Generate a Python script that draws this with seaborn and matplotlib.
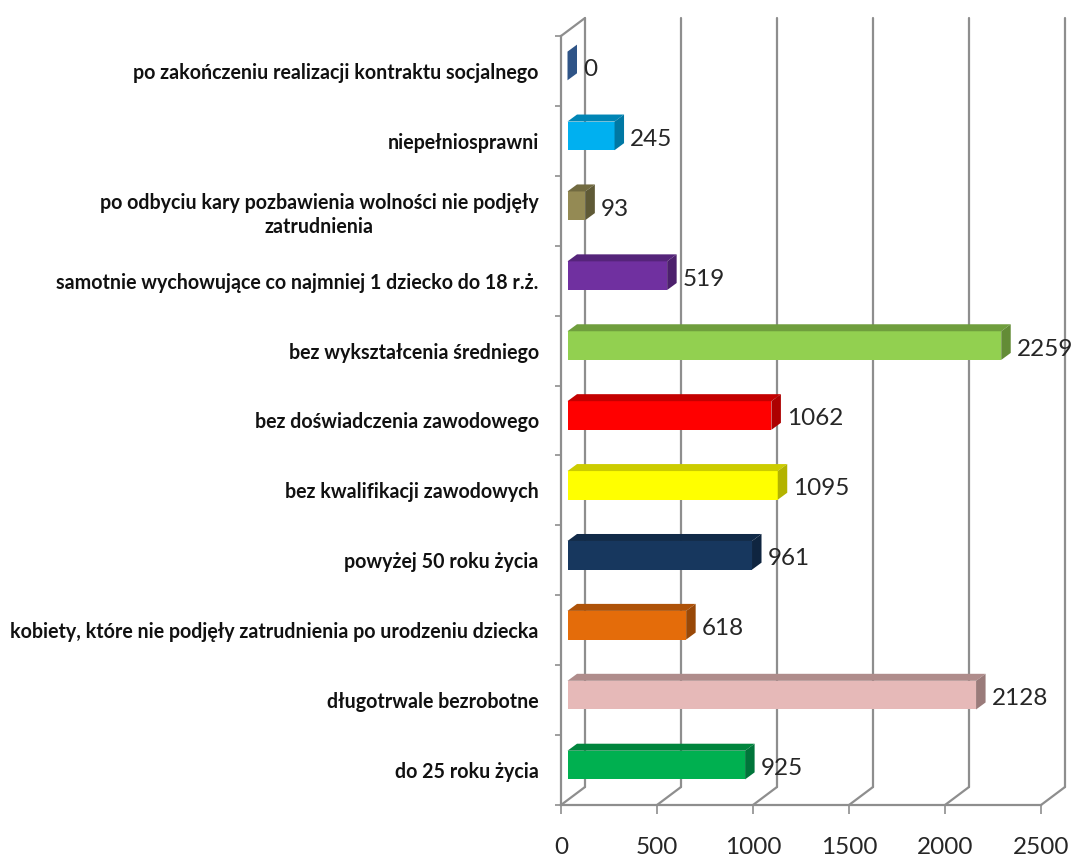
import matplotlib
matplotlib.use("Agg")
import matplotlib.pyplot as plt
import seaborn as sns
import pandas as pd
from matplotlib.patches import Polygon

categories = [
    "po zakończeniu realizacji kontraktu socjalnego",
    "niepełniosprawni",
    "po odbyciu kary pozbawienia wolności nie podjęły\nzatrudnienia",
    "samotnie wychowujące co najmniej 1 dziecko do 18 r.ż.",
    "bez wykształcenia średniego",
    "bez doświadczenia zawodowego",
    "bez kwalifikacji zawodowych",
    "powyżej 50 roku życia",
    "kobiety, które nie podjęły zatrudnienia po urodzeniu dziecka",
    "długotrwale bezrobotne",
    "do 25 roku życia",
]
values = [0, 245, 93, 519, 2259, 1062, 1095, 961, 618, 2128, 925]
x_ticks = [0, 500, 1000, 1500, 2000, 2500]

front_colors = ["#2F5487", "#00B0F0", "#948A54", "#7030A0", "#92D050", "#FF0000",
                "#FFFF00", "#17375E", "#E46C0A", "#E6B9B8", "#00B050"]
top_colors = ["#254369", "#0085B5", "#716A40", "#55247A", "#6F9E3D", "#C40000",
              "#CCCC00", "#112A48", "#AE5208", "#AF8C8B", "#00853D"]
side_colors = ["#2F5487", "#0078A4", "#5F5A36", "#4C206C", "#638C36", "#AD0000",
               "#B3B300", "#0F2540", "#994807", "#9A7B7A", "#00753A"]

GRID = "#8E8E8E"
TEXT = "#262626"

# one pixel in data units (480 px = 2500, 69.9 px = one row)
PX = 2500 / 480
PY = 1 / 69.9

sns.set_theme(style="white")
plt.rcParams["font.family"] = ["Lato", "DejaVu Sans"]

df = pd.DataFrame({"kategoria": categories, "liczba": values})

fig = plt.figure(figsize=(10.73, 8.57), dpi=100, facecolor="white")
ax = fig.add_axes([561 / 1073, 1 - 805 / 857, 480 / 1073, 769 / 857])

sns.barplot(data=df, y="kategoria", x="liczba", hue="kategoria", palette=front_colors,
            order=categories, hue_order=categories, legend=False, width=0.41,
            saturation=1, ax=ax, zorder=3, linewidth=0)

ax.set_xlim(0, 2500)
ax.set_ylim(len(categories) - 0.5, -0.5)

# back wall and floor of the 3d box
wall_x = 24 * PX
wall_y = 18 * PY
for t in x_ticks:
    ax.plot([t + wall_x, t + wall_x], [len(categories) - 0.5 - wall_y, -0.5 - wall_y],
            color=GRID, lw=1.6, clip_on=False, zorder=1)
    ax.plot([t, t + wall_x], [len(categories) - 0.5, len(categories) - 0.5 - wall_y],
            color=GRID, lw=1.6, clip_on=False, zorder=1)
ax.plot([0, wall_x], [-0.5, -0.5 - wall_y], color=GRID, lw=1.6, clip_on=False, zorder=1)

# shift the bars off the wall and give them a top and a side
bar_x = 6.5 * PX
bar_y = -5 * PY
depth_x = 9.5 * PX
depth_y = 7 * PY
for i, (bar, val) in enumerate(zip(ax.patches, values)):
    bar.set_x(bar_x)
    bar.set_y(bar.get_y() + bar_y)
    x0, x1 = bar_x, bar_x + val
    y0, y1 = bar.get_y(), bar.get_y() + bar.get_height()
    ax.add_patch(Polygon([(x0, y0), (x1, y0), (x1 + depth_x, y0 - depth_y), (x0 + depth_x, y0 - depth_y)],
                         closed=True, fc=top_colors[i], ec="none", zorder=3, clip_on=False))
    ax.add_patch(Polygon([(x1, y0), (x1 + depth_x, y0 - depth_y), (x1 + depth_x, y1 - depth_y), (x1, y1)],
                         closed=True, fc=side_colors[i], ec="none", zorder=3, clip_on=False))
    ax.text(x1 + depth_x + 6 * PX, i - 1.5 * PY, str(val), ha="left", va="center",
            fontsize=17.5, color=TEXT, clip_on=False, zorder=4)

sns.despine(ax=ax, top=True, right=True)
for side in ["left", "bottom"]:
    ax.spines[side].set_color(GRID)
    ax.spines[side].set_linewidth(1.6)

ax.set_xlabel("")
ax.set_ylabel("")
ax.set_xticks(x_ticks)
ax.tick_params(axis="x", length=6.5, width=1.2, color=GRID, pad=16.5, labelsize=17.5, labelcolor=TEXT,
               bottom=True)
ax.set_yticks(range(len(categories)))
ax.set_yticklabels(categories, fontsize=14.1, fontweight="bold", color="#111111",
                   multialignment="center", linespacing=1.25)
ax.tick_params(axis="y", length=0, pad=16)
ax.set_yticks([i - 0.5 for i in range(len(categories) + 1)], minor=True)
ax.tick_params(axis="y", which="minor", length=4.5, width=1.2, color=GRID, left=True)

fig.savefig("out.png", dpi=100, facecolor="white")
